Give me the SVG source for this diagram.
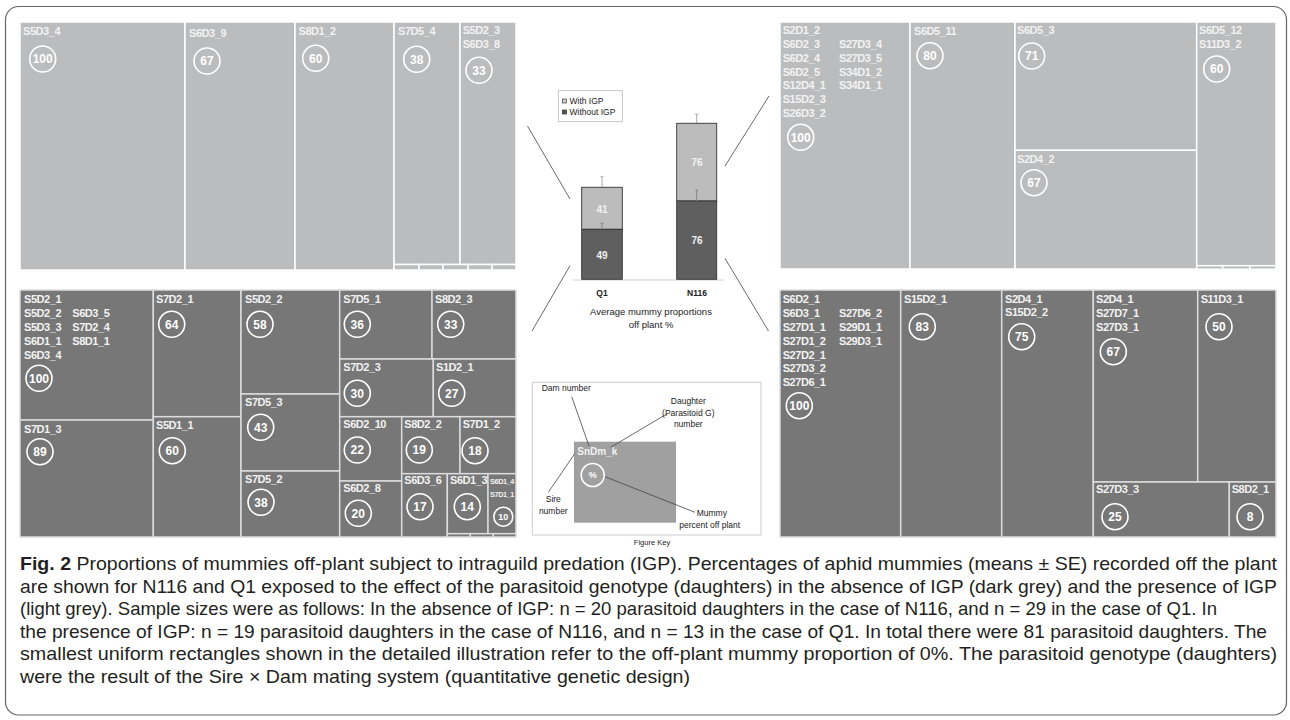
<svg xmlns="http://www.w3.org/2000/svg" width="1290" height="720" viewBox="0 0 1290 720">
<style>
.lt{fill:#bbbcbe;stroke:#ffffff;stroke-width:1.5}
.dk{fill:#777777;stroke:#dcdcdc;stroke-width:1.5}
.lb{font-family:"Liberation Sans",Arial,sans-serif;font-size:11px;font-weight:bold;fill:#f2f2f2;letter-spacing:-0.45px}
.sm{font-family:"Liberation Sans",Arial,sans-serif;font-size:7.3px;font-weight:bold;fill:#f2f2f2;letter-spacing:-0.4px}
.ci{fill:none;stroke:#ffffff;stroke-width:1.6}
.nm{font-family:"Liberation Sans",Arial,sans-serif;font-weight:bold;font-size:12px;fill:#ffffff;text-anchor:middle}
.kt{font-family:"Liberation Sans",Arial,sans-serif;font-size:9px;fill:#222}
.cap{font-family:"Liberation Sans",Arial,sans-serif;font-size:18.5px;fill:#231f20}
.cn{stroke:#444;stroke-width:0.8;fill:none}
</style>
<rect x="5.5" y="6.5" width="1281" height="708.5" rx="13" fill="#ffffff" stroke="#666" stroke-width="1.2"/>

<g id="q1-with-igp">
<rect class="lt" x="20" y="22" width="165" height="248"/>
<rect class="lt" x="185" y="22" width="110" height="248"/>
<rect class="lt" x="295" y="22" width="99" height="248"/>
<rect class="lt" x="394" y="22" width="66" height="242.5"/>
<rect class="lt" x="460" y="22" width="56" height="242.5"/>
<rect class="lt" x="394" y="264.5" width="25" height="5.5"/>
<rect class="lt" x="419" y="264.5" width="24" height="5.5"/>
<rect class="lt" x="443" y="264.5" width="25" height="5.5"/>
<rect class="lt" x="468" y="264.5" width="24" height="5.5"/>
<rect class="lt" x="492" y="264.5" width="24" height="5.5"/>
<text class="lb" x="23" y="35">S5D3_4</text>
<circle class="ci" cx="42.7" cy="59" r="13"/><text class="nm" x="42.7" y="63.3">100</text>
<text class="lb" x="189" y="37">S6D3_9</text>
<circle class="ci" cx="207" cy="61" r="13"/><text class="nm" x="207" y="65.3">67</text>
<text class="lb" x="298.5" y="35">S8D1_2</text>
<circle class="ci" cx="315.7" cy="58.3" r="13"/><text class="nm" x="315.7" y="62.6">60</text>
<text class="lb" x="398" y="34.5">S7D5_4</text>
<circle class="ci" cx="416.7" cy="59.3" r="13"/><text class="nm" x="416.7" y="63.6">38</text>
<text class="lb" x="462.7" y="34.3">S5D2_3</text>
<text class="lb" x="462.7" y="48">S6D3_8</text>
<circle class="ci" cx="479" cy="70.3" r="13"/><text class="nm" x="479" y="74.6">33</text>
</g>

<g id="n116-with-igp">
<rect class="lt" x="780" y="22" width="130" height="247"/>
<rect class="lt" x="910" y="22" width="105" height="247"/>
<rect class="lt" x="1015" y="22" width="181.7" height="128.3"/>
<rect class="lt" x="1015" y="150.3" width="181.7" height="118.7"/>
<rect class="lt" x="1196.7" y="22" width="79.3" height="243.7"/>
<rect class="lt" x="1196.7" y="265.7" width="26" height="3.5"/>
<rect class="lt" x="1222.7" y="265.7" width="27.3" height="3.5"/>
<rect class="lt" x="1250" y="265.7" width="26" height="3.5"/>
<text class="lb" x="782.7" y="34.3">S2D1_2</text>
<text class="lb" x="782.7" y="48.3">S6D2_3</text>
<text class="lb" x="782.7" y="62">S6D2_4</text>
<text class="lb" x="782.7" y="75.7">S6D2_5</text>
<text class="lb" x="782.7" y="89.3">S12D4_1</text>
<text class="lb" x="782.7" y="103">S15D2_3</text>
<text class="lb" x="782.7" y="116.7">S26D3_2</text>
<text class="lb" x="839" y="48.3">S27D3_4</text>
<text class="lb" x="839" y="62">S27D3_5</text>
<text class="lb" x="839" y="75.7">S34D1_2</text>
<text class="lb" x="839" y="89.3">S34D1_1</text>
<circle class="ci" cx="800.7" cy="137.3" r="13"/><text class="nm" x="800.7" y="141.6">100</text>
<text class="lb" x="914" y="35">S6D5_11</text>
<circle class="ci" cx="930" cy="55.7" r="13"/><text class="nm" x="930" y="60">80</text>
<text class="lb" x="1017" y="34">S6D5_3</text>
<circle class="ci" cx="1031.7" cy="56" r="13"/><text class="nm" x="1031.7" y="60.3">71</text>
<text class="lb" x="1017" y="163.3">S2D4_2</text>
<circle class="ci" cx="1034" cy="182.7" r="13"/><text class="nm" x="1034" y="187">67</text>
<text class="lb" x="1199" y="34.3">S6D5_12</text>
<text class="lb" x="1199" y="48.3">S11D3_2</text>
<circle class="ci" cx="1216.7" cy="69" r="13"/><text class="nm" x="1216.7" y="73.3">60</text>
</g>

<g id="q1-without-igp">
<rect class="dk" x="20" y="290" width="133.3" height="130"/>
<rect class="dk" x="20" y="420" width="133.3" height="117"/>
<rect class="dk" x="153.3" y="290" width="87.7" height="126.7"/>
<rect class="dk" x="153.3" y="416.7" width="87.7" height="120.3"/>
<rect class="dk" x="241" y="290" width="98.7" height="104"/>
<rect class="dk" x="241" y="394" width="98.7" height="77"/>
<rect class="dk" x="241" y="471" width="98.7" height="66"/>
<rect class="dk" x="339.7" y="290" width="92.3" height="69"/>
<rect class="dk" x="432" y="290" width="84" height="69"/>
<rect class="dk" x="339.7" y="359" width="93.6" height="57.7"/>
<rect class="dk" x="433.3" y="359" width="82.7" height="57.7"/>
<rect class="dk" x="339.7" y="416.7" width="62" height="64.3"/>
<rect class="dk" x="339.7" y="481" width="62" height="56"/>
<rect class="dk" x="401.7" y="416.7" width="58.3" height="57"/>
<rect class="dk" x="460" y="416.7" width="56" height="57"/>
<rect class="dk" x="401.7" y="473.7" width="45.6" height="63.3"/>
<rect class="dk" x="447.3" y="473.7" width="40.7" height="60"/>
<rect class="dk" x="488" y="473.7" width="28" height="60"/>
<rect class="dk" x="447.3" y="533.7" width="23" height="3.3"/>
<rect class="dk" x="470.3" y="533.7" width="23" height="3.3"/>
<rect class="dk" x="493.3" y="533.7" width="22.7" height="3.3"/>
<text class="lb" x="24" y="303.3">S5D2_1</text>
<text class="lb" x="24" y="317.3">S5D2_2</text>
<text class="lb" x="24" y="331">S5D3_3</text>
<text class="lb" x="24" y="345">S6D1_1</text>
<text class="lb" x="24" y="358.7">S6D3_4</text>
<text class="lb" x="72.3" y="317.3">S6D3_5</text>
<text class="lb" x="72.3" y="331">S7D2_4</text>
<text class="lb" x="72.3" y="345">S8D1_1</text>
<circle class="ci" cx="39" cy="378.3" r="13"/><text class="nm" x="39" y="382.6">100</text>
<text class="lb" x="24" y="433.3">S7D1_3</text>
<circle class="ci" cx="40" cy="451.7" r="13"/><text class="nm" x="40" y="456">89</text>
<text class="lb" x="156" y="303.3">S7D2_1</text>
<circle class="ci" cx="171.7" cy="324.3" r="13"/><text class="nm" x="171.7" y="328.6">64</text>
<text class="lb" x="156" y="429.3">S5D1_1</text>
<circle class="ci" cx="172.3" cy="450.7" r="13"/><text class="nm" x="172.3" y="455">60</text>
<text class="lb" x="245" y="303.3">S5D2_2</text>
<circle class="ci" cx="260" cy="324.3" r="13"/><text class="nm" x="260" y="328.6">58</text>
<text class="lb" x="245" y="405.7">S7D5_3</text>
<circle class="ci" cx="260.7" cy="427.3" r="13"/><text class="nm" x="260.7" y="431.6">43</text>
<text class="lb" x="245" y="482.7">S7D5_2</text>
<circle class="ci" cx="261" cy="502.3" r="13"/><text class="nm" x="261" y="506.6">38</text>
<text class="lb" x="343.3" y="303.3">S7D5_1</text>
<circle class="ci" cx="357.3" cy="324.3" r="13"/><text class="nm" x="357.3" y="328.6">36</text>
<text class="lb" x="435" y="303.3">S8D2_3</text>
<circle class="ci" cx="450.7" cy="324.3" r="13"/><text class="nm" x="450.7" y="328.6">33</text>
<text class="lb" x="343.3" y="370.7">S7D2_3</text>
<circle class="ci" cx="357.3" cy="393.3" r="13"/><text class="nm" x="357.3" y="397.6">30</text>
<text class="lb" x="436" y="370.7">S1D2_1</text>
<circle class="ci" cx="451.7" cy="393.3" r="13"/><text class="nm" x="451.7" y="397.6">27</text>
<text class="lb" x="343.3" y="428.3">S6D2_10</text>
<circle class="ci" cx="357.3" cy="450" r="13"/><text class="nm" x="357.3" y="454.3">22</text>
<text class="lb" x="404.3" y="428.3">S8D2_2</text>
<circle class="ci" cx="419.3" cy="450" r="13"/><text class="nm" x="419.3" y="454.3">19</text>
<text class="lb" x="462.7" y="428.3">S7D1_2</text>
<circle class="ci" cx="475" cy="450.7" r="13"/><text class="nm" x="475" y="455">18</text>
<text class="lb" x="343.3" y="491.7">S6D2_8</text>
<circle class="ci" cx="358.3" cy="513.3" r="13"/><text class="nm" x="358.3" y="517.6">20</text>
<text class="lb" x="404.3" y="484">S6D3_6</text>
<circle class="ci" cx="420" cy="506.7" r="13"/><text class="nm" x="420" y="511">17</text>
<text class="lb" x="450" y="484">S6D1_3</text>
<circle class="ci" cx="467.3" cy="506.7" r="13"/><text class="nm" x="467.3" y="511">14</text>
<text class="sm" x="490" y="484">S6D1_4</text>
<text class="sm" x="490" y="497.3">S7D1_1</text>
<circle class="ci" cx="503.3" cy="516.7" r="9.5"/><text class="nm" x="503.3" y="520" style="font-size:9px">10</text>
</g>

<g id="n116-without-igp">
<rect class="dk" x="780" y="290" width="120.7" height="247"/>
<rect class="dk" x="900.7" y="290" width="101" height="247"/>
<rect class="dk" x="1001.7" y="290" width="91.6" height="247"/>
<rect class="dk" x="1093.3" y="290" width="104.4" height="192"/>
<rect class="dk" x="1197.7" y="290" width="78.3" height="192"/>
<rect class="dk" x="1093.3" y="482" width="136" height="55"/>
<rect class="dk" x="1229.3" y="482" width="46.7" height="55"/>
<text class="lb" x="782.7" y="303.3">S6D2_1</text>
<text class="lb" x="782.7" y="317.3">S6D3_1</text>
<text class="lb" x="782.7" y="331">S27D1_1</text>
<text class="lb" x="782.7" y="345">S27D1_2</text>
<text class="lb" x="782.7" y="358.7">S27D2_1</text>
<text class="lb" x="782.7" y="372.3">S27D3_2</text>
<text class="lb" x="782.7" y="386">S27D6_1</text>
<text class="lb" x="839" y="317.3">S27D6_2</text>
<text class="lb" x="839" y="331">S29D1_1</text>
<text class="lb" x="839" y="345">S29D3_1</text>
<circle class="ci" cx="799.3" cy="405.7" r="13"/><text class="nm" x="799.3" y="410">100</text>
<text class="lb" x="904" y="303.3">S15D2_1</text>
<circle class="ci" cx="922.3" cy="326.7" r="13"/><text class="nm" x="922.3" y="331">83</text>
<text class="lb" x="1005" y="303.3">S2D4_1</text>
<text class="lb" x="1005" y="315.7">S15D2_2</text>
<circle class="ci" cx="1021.7" cy="336.7" r="13"/><text class="nm" x="1021.7" y="341">75</text>
<text class="lb" x="1096" y="303.3">S2D4_1</text>
<text class="lb" x="1096" y="317.3">S27D7_1</text>
<text class="lb" x="1096" y="331">S27D3_1</text>
<circle class="ci" cx="1113.3" cy="351.7" r="13"/><text class="nm" x="1113.3" y="356">67</text>
<text class="lb" x="1200.7" y="303.3">S11D3_1</text>
<circle class="ci" cx="1219" cy="326.7" r="13"/><text class="nm" x="1219" y="331">50</text>
<text class="lb" x="1096" y="492.7">S27D3_3</text>
<circle class="ci" cx="1115" cy="516.7" r="13"/><text class="nm" x="1115" y="521">25</text>
<text class="lb" x="1231.7" y="492.7">S8D2_1</text>
<circle class="ci" cx="1250" cy="516.7" r="13"/><text class="nm" x="1250" y="521">8</text>
</g>

<g id="connectors">
<line class="cn" x1="527.5" y1="126" x2="570" y2="199"/>
<line class="cn" x1="570" y1="265.7" x2="532" y2="331"/>
<line class="cn" x1="725" y1="166" x2="769" y2="96"/>
<line class="cn" x1="725" y1="258.3" x2="768.5" y2="331"/>
</g>

<g id="bar-chart">
<rect x="558.3" y="90.7" width="64" height="31" fill="#fff" stroke="#bbb" stroke-width="0.8"/>
<rect x="562.5" y="99" width="4" height="4" fill="#ccc" stroke="#444" stroke-width="0.7"/>
<rect x="562.5" y="110" width="4" height="4" fill="#555" stroke="#333" stroke-width="0.7"/>
<text class="kt" x="569.5" y="103.6" style="font-size:8.5px">With IGP</text>
<text class="kt" x="569.5" y="114.6" style="font-size:8.5px">Without IGP</text>
<line x1="573.3" y1="280" x2="724" y2="280" stroke="#d0d0d0" stroke-width="1"/>
<line x1="602" y1="187.3" x2="602" y2="176.7" stroke="#aaa" stroke-width="1"/>
<line x1="600.5" y1="176.7" x2="603.5" y2="176.7" stroke="#aaa" stroke-width="1"/>
<line x1="696.7" y1="123.3" x2="696.7" y2="114.3" stroke="#aaa" stroke-width="1"/>
<line x1="695.2" y1="114.3" x2="698.2" y2="114.3" stroke="#aaa" stroke-width="1"/>
<rect x="581.7" y="187.3" width="40.6" height="42" fill="#bcbcbc" stroke="#333" stroke-width="0.9"/>
<rect x="581.7" y="229.3" width="40.6" height="50" fill="#5f5f5f" stroke="#333" stroke-width="0.9"/>
<rect x="676.7" y="123.3" width="40" height="77.7" fill="#bcbcbc" stroke="#333" stroke-width="0.9"/>
<rect x="676.7" y="201" width="40" height="78.3" fill="#5f5f5f" stroke="#333" stroke-width="0.9"/>
<line x1="602" y1="229.3" x2="602" y2="223.3" stroke="#888" stroke-width="1"/>
<line x1="600.5" y1="223.3" x2="603.5" y2="223.3" stroke="#888" stroke-width="1"/>
<line x1="696.7" y1="201" x2="696.7" y2="190" stroke="#888" stroke-width="1"/>
<line x1="695.2" y1="190" x2="698.2" y2="190" stroke="#888" stroke-width="1"/>
<text class="nm" x="602" y="212.5" style="font-size:10px;fill:#f2f2f2">41</text>
<text class="nm" x="602" y="258.5" style="font-size:10px;fill:#f2f2f2">49</text>
<text class="nm" x="697" y="165.8" style="font-size:10px;fill:#f2f2f2">76</text>
<text class="nm" x="697" y="244.2" style="font-size:10px;fill:#f2f2f2">76</text>
<text class="kt" x="602" y="295.7" text-anchor="middle" style="font-weight:bold;font-size:8.5px">Q1</text>
<text class="kt" x="697" y="295.7" text-anchor="middle" style="font-weight:bold;font-size:8.5px">N116</text>
<text class="kt" x="651" y="315" text-anchor="middle" style="font-size:9.5px">Average mummy proportions</text>
<text class="kt" x="651" y="327.7" text-anchor="middle" style="font-size:9.5px">off plant %</text>
</g>

<g id="figure-key">
<rect x="532.3" y="382.3" width="228.7" height="152.7" fill="#fff" stroke="#c8c8c8" stroke-width="0.9"/>
<rect x="574" y="441.7" width="102" height="81" fill="#a0a0a0"/>
<line class="cn" x1="571.7" y1="396.7" x2="589" y2="446"/>
<line class="cn" x1="666.7" y1="414" x2="610.7" y2="447.3"/>
<line class="cn" x1="575" y1="453.3" x2="548.3" y2="492.3"/>
<line class="cn" x1="605" y1="476.7" x2="695" y2="512.3"/>
<text class="kt" x="541.7" y="390.7" style="font-size:8.5px">Dam number</text>
<text class="kt" x="688.3" y="404" text-anchor="middle" style="font-size:8.5px">Daughter</text>
<text class="kt" x="688.3" y="415.7" text-anchor="middle" style="font-size:8.5px">(Parasitoid G)</text>
<text class="kt" x="688.3" y="427.3" text-anchor="middle" style="font-size:8.5px">number</text>
<text class="lb" x="577.3" y="455" style="font-size:10px;letter-spacing:0">SnDm_k</text>
<circle class="ci" cx="592.7" cy="475" r="11.5"/>
<text class="nm" x="592.7" y="478.3" style="font-size:9px">%</text>
<text class="kt" x="553.3" y="502.3" text-anchor="middle" style="font-size:8.5px">Sire</text>
<text class="kt" x="553.3" y="514" text-anchor="middle" style="font-size:8.5px">number</text>
<text class="kt" x="696.7" y="516" style="font-size:8.5px">Mummy</text>
<text class="kt" x="679.3" y="528.3" style="font-size:8.5px">percent off plant</text>
<text class="kt" x="652" y="545" text-anchor="middle" style="font-size:7.5px">Figure Key</text>
</g>

<g id="caption">
<text class="cap" x="20" y="570" textLength="1257" lengthAdjust="spacingAndGlyphs"><tspan font-weight="bold">Fig. 2</tspan>  Proportions of mummies off-plant subject to intraguild predation (IGP). Percentages of aphid mummies (means ± SE) recorded off the plant</text>
<text class="cap" x="20" y="592.7" textLength="1257" lengthAdjust="spacingAndGlyphs">are shown for N116 and Q1 exposed to the effect of the parasitoid genotype (daughters) in the absence of IGP (dark grey) and the presence of IGP</text>
<text class="cap" x="20" y="615.3" textLength="1197" lengthAdjust="spacingAndGlyphs">(light grey). Sample sizes were as follows: In the absence of IGP: n = 20 parasitoid daughters in the case of N116, and n = 29 in the case of Q1. In</text>
<text class="cap" x="20" y="637.7" textLength="1247" lengthAdjust="spacingAndGlyphs">the presence of IGP: n = 19 parasitoid daughters in the case of N116, and n = 13 in the case of Q1. In total there were 81 parasitoid daughters. The</text>
<text class="cap" x="20" y="660.3" textLength="1257" lengthAdjust="spacingAndGlyphs">smallest uniform rectangles shown in the detailed illustration refer to the off-plant mummy proportion of 0%. The parasitoid genotype (daughters)</text>
<text class="cap" x="20" y="682.7" textLength="670" lengthAdjust="spacingAndGlyphs">were the result of the Sire × Dam mating system (quantitative genetic design)</text>
</g>
</svg>
